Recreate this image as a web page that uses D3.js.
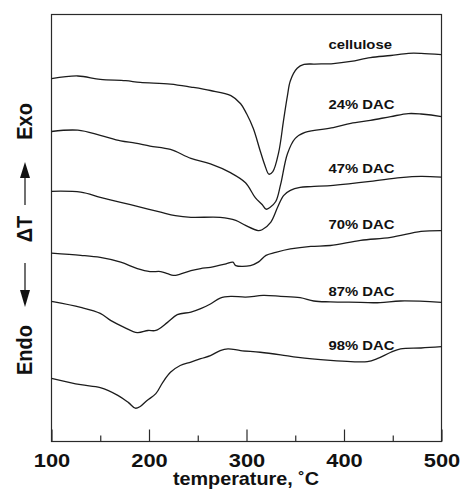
<!DOCTYPE html>
<html>
<head>
<meta charset="utf-8">
<script src="https://cdn.jsdelivr.net/npm/d3@7"></script>
<style>
  body { margin: 0; background: #fff; }
  .curve { fill: none; stroke: #1c1c1c; stroke-width: 1.3; }
  text { font-family: "Liberation Sans", Arial, Helvetica, sans-serif; fill: #111; font-weight: bold; }
</style>
</head>
<body>
<div id="container"></div>
<script>
// DSC curves, ΔT in arbitrary units (curves offset vertically as in the figure)
const cellulose = [[100,85.0],[127,85.6],[150,84.8],[176,84.5],[191,84.1],[222,83.7],[243,83.0],
  [263,82.2],[284,81.0],[294,79.1],[300,76.8],[307,73.3],[314,68.1],[319,64.6],[323,62.6],
  [327,63.2],[333,67.7],[338,75.2],[342,81.0],[345,84.5],[352,87.4],[359,88.3],[370,88.4],
  [389,88.5],[407,89.0],[427,89.9],[448,90.4],[466,90.9],[479,90.9],[500,90.6]];

const dac24 = [[100,72.6],[127,72.9],[150,71.7],[171,70.4],[186,69.9],[201,69.2],[222,68.4],
  [243,66.3],[263,65.0],[284,62.9],[299,60.6],[309,57.1],[316,55.5],[320,54.4],[324,54.8],
  [330,56.2],[335,60.2],[342,67.4],[350,71.0],[360,72.4],[389,73.5],[407,74.5],[427,75.2],
  [448,76.1],[466,76.8],[479,76.7],[500,76.1]];

const dac47 = [[100,58.6],[130,58.4],[150,57.2],[171,56.0],[191,54.9],[212,53.7],[227,52.9],
  [243,52.5],[273,52.5],[289,51.8],[299,50.6],[312,49.4],[316,49.6],[325,51.4],[332,54.9],
  [338,57.6],[345,58.8],[355,59.5],[366,59.7],[389,60.0],[427,60.9],[458,61.8],[479,62.1],
  [500,61.9]];

const dac70 = [[100,44.1],[130,43.6],[150,43.1],[171,42.0],[188,40.5],[201,39.8],[212,39.8],
  [219,39.3],[225,38.9],[232,39.2],[243,40.0],[253,40.5],[263,40.8],[279,41.6],[286,42.0],
  [289,41.2],[304,41.2],[312,42.0],[320,43.6],[330,44.3],[345,45.1],[366,45.7],[386,45.9],
  [417,47.1],[448,47.8],[479,49.2],[500,49.4]];

const dac87 = [[100,32.8],[130,31.4],[150,30.0],[161,28.3],[174,26.8],[188,25.5],[199,26.0],
  [207,26.0],[219,27.9],[229,29.7],[243,30.3],[253,31.1],[263,32.2],[273,33.6],[284,34.0],
  [299,33.8],[317,34.2],[335,34.0],[355,33.7],[369,32.9],[386,32.7],[417,32.6],[437,32.5],
  [458,32.9],[500,32.6]];

const dac98 = [[100,14.8],[130,13.3],[150,12.6],[168,10.8],[179,9.1],[186,7.8],[191,8.2],
  [198,9.6],[207,11.2],[214,13.8],[222,16.2],[232,17.8],[243,18.6],[253,19.4],[263,20.1],
  [273,21.3],[281,21.7],[294,21.3],[314,20.9],[335,20.3],[353,19.7],[386,19.0],[407,18.7],
  [424,18.7],[434,19.4],[448,20.9],[458,21.7],[479,21.9],[500,22.2]];

const seriesNames = ["cellulose", "24% DAC", "47% DAC", "70% DAC", "87% DAC", "98% DAC"];
const seriesData = [cellulose, dac24, dac47, dac70, dac87, dac98];

const xTicks = [100, 200, 300, 400, 500];
const xMinorTicks = [150, 250, 350, 450];

const WIDTH = 460,
      HEIGHT = 498;

const margin = { top: 14, bottom: 57, left: 51, right: 19 };

const width = WIDTH - margin.left - margin.right,
      height = HEIGHT - margin.top - margin.bottom;

const svg = d3.select('#container')
    .append('svg')
    .attr("width", WIDTH)
    .attr("height", HEIGHT);

const container = svg.append('g')
    .attr("transform", `translate(${margin.left + 0.5}, ${margin.top + 0.5})`);

const xScale = d3.scaleLinear().domain([100, 500]).range([0, width]);
const yScale = d3.scaleLinear().domain([0, 100]).range([height, 0]);

// frame
container.append("rect")
    .attr("width", width)
    .attr("height", height)
    .attr("fill", "none")
    .attr("stroke", "#2a2a2a")
    .attr("stroke-width", 1.2);

// ticks drawn inward from the bottom edge
const xAxis = d3.axisBottom(xScale).tickValues(xTicks).tickSize(-12).tickFormat(d3.format("d"));
const xMinor = d3.axisBottom(xScale).tickValues(xMinorTicks).tickSize(-6).tickFormat("");

const ejeX = container.append("g")
    .attr("transform", `translate(0, ${height})`)
    .call(xAxis);
const ejeMinor = container.append("g")
    .attr("transform", `translate(0, ${height})`)
    .call(xMinor);

[ejeX, ejeMinor].forEach(g => {
    g.select(".domain").remove();
    g.selectAll("line").attr("stroke", "#2a2a2a").attr("stroke-width", 1.2);
});

ejeX.selectAll("text")
    .attr("y", null)
    .attr("dy", null)
    .attr("fill", "#111")
    .style("font-family", '"Liberation Sans", Arial, sans-serif')
    .style("font-size", "19px")
    .style("font-weight", "bold")
    .attr("transform", "translate(0, 25.5) scale(1.15, 1)");

// curves
const line = d3.line()
    .x(d => xScale(d[0]))
    .y(d => yScale(d[1]))
    .curve(d3.curveCatmullRom.alpha(0.5));

container.selectAll(".curve")
    .data(seriesData)
    .join("path")
    .attr("class", "curve")
    .attr("d", line);

// curve labels, sitting just above each trace
const valueAt = (serie, t) => {
    const i = d3.bisector(d => d[0]).left(serie, t);
    const a = serie[Math.max(i - 1, 0)], b = serie[Math.min(i, serie.length - 1)];
    if (a[0] === b[0]) return a[1];
    return a[1] + (b[1] - a[1]) * (t - a[0]) / (b[0] - a[0]);
};
const labelGap = [10, 12, 9, 11, 6, 12];

container.selectAll(".serie-label")
    .data(seriesNames)
    .join("text")
    .attr("class", "serie-label")
    .attr("font-size", 13.5)
    .attr("transform", (d, i) =>
        `translate(${xScale(384)}, ${yScale(valueAt(seriesData[i], 420)) - labelGap[i]}) scale(1.1, 1)`)
    .text(d => d);

// x title
svg.append("text")
    .attr("text-anchor", "middle")
    .attr("font-size", 18)
    .attr("transform", `translate(${margin.left + width / 2}, 485) scale(1.1, 1)`)
    .text("temperature, ˚C");

// y label: Endo ↓ ΔT → Exo
const yLab = [["Endo", 350], ["ΔT", 229], ["Exo", 121.5]];
yLab.forEach(([t, yc]) => {
    svg.append("text")
        .attr("text-anchor", "middle")
        .attr("font-size", 20)
        .attr("transform", `translate(32, ${yc}) rotate(-90) scale(1, 1.1)`)
        .text(t);
});

const arrows = svg.append("g").attr("stroke", "#111").attr("fill", "#111");
// up arrow
arrows.append("line").attr("x1", 25).attr("x2", 25).attr("y1", 205).attr("y2", 176).attr("stroke-width", 1.2);
arrows.append("path").attr("d", "M25,162 L20,178 L30,178 Z").attr("stroke", "none");
// down arrow
arrows.append("line").attr("x1", 25).attr("x2", 25).attr("y1", 263).attr("y2", 292).attr("stroke-width", 1.2);
arrows.append("path").attr("d", "M25,307 L20,290 L30,290 Z").attr("stroke", "none");
</script>
</body>
</html>
